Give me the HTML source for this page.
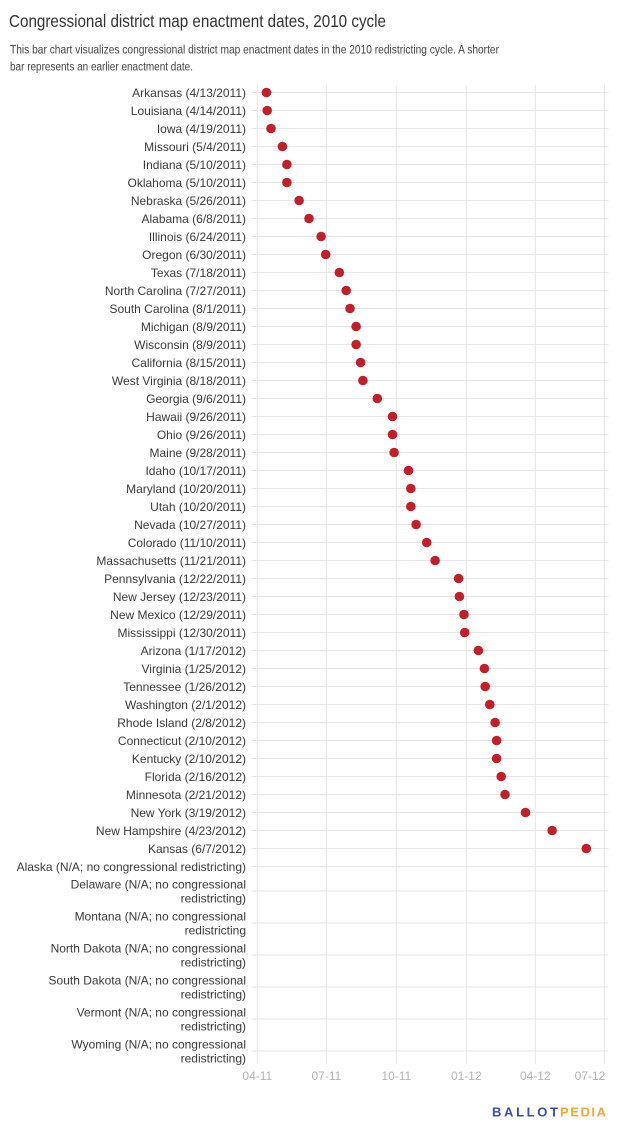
<!DOCTYPE html>
<html><head><meta charset="utf-8"><style>
html,body{margin:0;padding:0;background:#fff;}
svg{display:block;font-family:"Liberation Sans",Arial,sans-serif;}
.lab{font-size:12px;fill:#3a3a3a;text-anchor:end;}
.tick{font-size:12px;fill:#b3b3b3;text-anchor:middle;}
.g{stroke:#e6e6e6;stroke-width:1;}
.d{fill:#c1202b;}
</style></head><body>
<svg width="620" height="1134" viewBox="0 0 620 1134" xmlns="http://www.w3.org/2000/svg">
<text x="9" y="27" font-size="17.5" fill="#333" textLength="377" lengthAdjust="spacingAndGlyphs">Congressional district map enactment dates, 2010 cycle</text>
<text x="10" y="53.5" font-size="12.3" fill="#444" textLength="489" lengthAdjust="spacingAndGlyphs">This bar chart visualizes congressional district map enactment dates in the 2010 redistricting cycle. A shorter</text>
<text x="10" y="70.5" font-size="12.3" fill="#444" textLength="183" lengthAdjust="spacingAndGlyphs">bar represents an earlier enactment date.</text>

<g class="g">
<line x1="257.3" y1="85" x2="257.3" y2="1064"/>
<line x1="326.4" y1="85" x2="326.4" y2="1064"/>
<line x1="396.3" y1="85" x2="396.3" y2="1064"/>
<line x1="466.3" y1="85" x2="466.3" y2="1064"/>
<line x1="535.3" y1="85" x2="535.3" y2="1064"/>
<line x1="604.4" y1="85" x2="604.4" y2="1064"/>
</g>
<g class="g" id="hl"></g>

<g class="tick">
<text x="257.3" y="1080">04-11</text>
<text x="326.4" y="1080">07-11</text>
<text x="396.3" y="1080">10-11</text>
<text x="466.3" y="1080">01-12</text>
<text x="535.3" y="1080">04-12</text>
<text x="590" y="1080">07-12</text>
</g>

<g class="g">
<line x1="251.5" y1="92.5" x2="608.5" y2="92.5"/><line x1="251.5" y1="110.5" x2="608.5" y2="110.5"/><line x1="251.5" y1="128.5" x2="608.5" y2="128.5"/><line x1="251.5" y1="146.5" x2="608.5" y2="146.5"/><line x1="251.5" y1="164.5" x2="608.5" y2="164.5"/><line x1="251.5" y1="182.5" x2="608.5" y2="182.5"/><line x1="251.5" y1="200.5" x2="608.5" y2="200.5"/><line x1="251.5" y1="218.5" x2="608.5" y2="218.5"/><line x1="251.5" y1="236.5" x2="608.5" y2="236.5"/><line x1="251.5" y1="254.5" x2="608.5" y2="254.5"/><line x1="251.5" y1="272.5" x2="608.5" y2="272.5"/><line x1="251.5" y1="290.5" x2="608.5" y2="290.5"/><line x1="251.5" y1="308.5" x2="608.5" y2="308.5"/><line x1="251.5" y1="326.5" x2="608.5" y2="326.5"/><line x1="251.5" y1="344.5" x2="608.5" y2="344.5"/><line x1="251.5" y1="362.5" x2="608.5" y2="362.5"/><line x1="251.5" y1="380.5" x2="608.5" y2="380.5"/><line x1="251.5" y1="398.5" x2="608.5" y2="398.5"/><line x1="251.5" y1="416.5" x2="608.5" y2="416.5"/><line x1="251.5" y1="434.5" x2="608.5" y2="434.5"/><line x1="251.5" y1="452.5" x2="608.5" y2="452.5"/><line x1="251.5" y1="470.5" x2="608.5" y2="470.5"/><line x1="251.5" y1="488.5" x2="608.5" y2="488.5"/><line x1="251.5" y1="506.5" x2="608.5" y2="506.5"/><line x1="251.5" y1="524.5" x2="608.5" y2="524.5"/><line x1="251.5" y1="542.5" x2="608.5" y2="542.5"/><line x1="251.5" y1="560.5" x2="608.5" y2="560.5"/><line x1="251.5" y1="578.5" x2="608.5" y2="578.5"/><line x1="251.5" y1="596.5" x2="608.5" y2="596.5"/><line x1="251.5" y1="614.5" x2="608.5" y2="614.5"/><line x1="251.5" y1="632.5" x2="608.5" y2="632.5"/><line x1="251.5" y1="650.5" x2="608.5" y2="650.5"/><line x1="251.5" y1="668.5" x2="608.5" y2="668.5"/><line x1="251.5" y1="686.5" x2="608.5" y2="686.5"/><line x1="251.5" y1="704.5" x2="608.5" y2="704.5"/><line x1="251.5" y1="722.5" x2="608.5" y2="722.5"/><line x1="251.5" y1="740.5" x2="608.5" y2="740.5"/><line x1="251.5" y1="758.5" x2="608.5" y2="758.5"/><line x1="251.5" y1="776.5" x2="608.5" y2="776.5"/><line x1="251.5" y1="794.5" x2="608.5" y2="794.5"/><line x1="251.5" y1="812.5" x2="608.5" y2="812.5"/><line x1="251.5" y1="830.5" x2="608.5" y2="830.5"/><line x1="251.5" y1="848.5" x2="608.5" y2="848.5"/><line x1="251.5" y1="866.5" x2="608.5" y2="866.5"/><line x1="251.5" y1="891" x2="608.5" y2="891"/><line x1="251.5" y1="923" x2="608.5" y2="923"/><line x1="251.5" y1="955" x2="608.5" y2="955"/><line x1="251.5" y1="987" x2="608.5" y2="987"/><line x1="251.5" y1="1019" x2="608.5" y2="1019"/><line x1="251.5" y1="1051" x2="608.5" y2="1051"/>
</g>

<g class="lab">
<text x="246" y="96.8">Arkansas (4/13/2011)</text>
<text x="246" y="114.8">Louisiana (4/14/2011)</text>
<text x="246" y="132.8">Iowa (4/19/2011)</text>
<text x="246" y="150.8">Missouri (5/4/2011)</text>
<text x="246" y="168.8">Indiana (5/10/2011)</text>
<text x="246" y="186.8">Oklahoma (5/10/2011)</text>
<text x="246" y="204.8">Nebraska (5/26/2011)</text>
<text x="246" y="222.8">Alabama (6/8/2011)</text>
<text x="246" y="240.8">Illinois (6/24/2011)</text>
<text x="246" y="258.8">Oregon (6/30/2011)</text>
<text x="246" y="276.8">Texas (7/18/2011)</text>
<text x="246" y="294.8">North Carolina (7/27/2011)</text>
<text x="246" y="312.8">South Carolina (8/1/2011)</text>
<text x="246" y="330.8">Michigan (8/9/2011)</text>
<text x="246" y="348.8">Wisconsin (8/9/2011)</text>
<text x="246" y="366.8">California (8/15/2011)</text>
<text x="246" y="384.8">West Virginia (8/18/2011)</text>
<text x="246" y="402.8">Georgia (9/6/2011)</text>
<text x="246" y="420.8">Hawaii (9/26/2011)</text>
<text x="246" y="438.8">Ohio (9/26/2011)</text>
<text x="246" y="456.8">Maine (9/28/2011)</text>
<text x="246" y="474.8">Idaho (10/17/2011)</text>
<text x="246" y="492.8">Maryland (10/20/2011)</text>
<text x="246" y="510.8">Utah (10/20/2011)</text>
<text x="246" y="528.8">Nevada (10/27/2011)</text>
<text x="246" y="546.8">Colorado (11/10/2011)</text>
<text x="246" y="564.8">Massachusetts (11/21/2011)</text>
<text x="246" y="582.8">Pennsylvania (12/22/2011)</text>
<text x="246" y="600.8">New Jersey (12/23/2011)</text>
<text x="246" y="618.8">New Mexico (12/29/2011)</text>
<text x="246" y="636.8">Mississippi (12/30/2011)</text>
<text x="246" y="654.8">Arizona (1/17/2012)</text>
<text x="246" y="672.8">Virginia (1/25/2012)</text>
<text x="246" y="690.8">Tennessee (1/26/2012)</text>
<text x="246" y="708.8">Washington (2/1/2012)</text>
<text x="246" y="726.8">Rhode Island (2/8/2012)</text>
<text x="246" y="744.8">Connecticut (2/10/2012)</text>
<text x="246" y="762.8">Kentucky (2/10/2012)</text>
<text x="246" y="780.8">Florida (2/16/2012)</text>
<text x="246" y="798.8">Minnesota (2/21/2012)</text>
<text x="246" y="816.8">New York (3/19/2012)</text>
<text x="246" y="834.8">New Hampshire (4/23/2012)</text>
<text x="246" y="852.8">Kansas (6/7/2012)</text>
<text x="246" y="870.8">Alaska (N/A; no congressional redistricting)</text>
<text x="246" y="888.3">Delaware (N/A; no congressional</text>
<text x="246" y="902.3">redistricting)</text>
<text x="246" y="920.3">Montana (N/A; no congressional</text>
<text x="246" y="934.3">redistricting</text>
<text x="246" y="952.3">North Dakota (N/A; no congressional</text>
<text x="246" y="966.3">redistricting)</text>
<text x="246" y="984.3">South Dakota (N/A; no congressional</text>
<text x="246" y="998.3">redistricting)</text>
<text x="246" y="1016.3">Vermont (N/A; no congressional</text>
<text x="246" y="1030.3">redistricting)</text>
<text x="246" y="1048.3">Wyoming (N/A; no congressional</text>
<text x="246" y="1062.3">redistricting)</text>
</g>

<g class="d">
<circle cx="266.4" cy="92.5" r="4.8"/>
<circle cx="267.2" cy="110.5" r="4.8"/>
<circle cx="271.0" cy="128.5" r="4.8"/>
<circle cx="282.4" cy="146.5" r="4.8"/>
<circle cx="286.9" cy="164.5" r="4.8"/>
<circle cx="286.9" cy="182.5" r="4.8"/>
<circle cx="299.1" cy="200.5" r="4.8"/>
<circle cx="309.0" cy="218.5" r="4.8"/>
<circle cx="321.1" cy="236.5" r="4.8"/>
<circle cx="325.7" cy="254.5" r="4.8"/>
<circle cx="339.3" cy="272.5" r="4.8"/>
<circle cx="346.2" cy="290.5" r="4.8"/>
<circle cx="350.0" cy="308.5" r="4.8"/>
<circle cx="356.1" cy="326.5" r="4.8"/>
<circle cx="356.1" cy="344.5" r="4.8"/>
<circle cx="360.6" cy="362.5" r="4.8"/>
<circle cx="362.9" cy="380.5" r="4.8"/>
<circle cx="377.3" cy="398.5" r="4.8"/>
<circle cx="392.5" cy="416.5" r="4.8"/>
<circle cx="392.5" cy="434.5" r="4.8"/>
<circle cx="394.1" cy="452.5" r="4.8"/>
<circle cx="408.5" cy="470.5" r="4.8"/>
<circle cx="410.8" cy="488.5" r="4.8"/>
<circle cx="410.8" cy="506.5" r="4.8"/>
<circle cx="416.1" cy="524.5" r="4.8"/>
<circle cx="426.7" cy="542.5" r="4.8"/>
<circle cx="435.1" cy="560.5" r="4.8"/>
<circle cx="458.6" cy="578.5" r="4.8"/>
<circle cx="459.4" cy="596.5" r="4.8"/>
<circle cx="464.0" cy="614.5" r="4.8"/>
<circle cx="464.7" cy="632.5" r="4.8"/>
<circle cx="478.4" cy="650.5" r="4.8"/>
<circle cx="484.4" cy="668.5" r="4.8"/>
<circle cx="485.2" cy="686.5" r="4.8"/>
<circle cx="489.8" cy="704.5" r="4.8"/>
<circle cx="495.1" cy="722.5" r="4.8"/>
<circle cx="496.6" cy="740.5" r="4.8"/>
<circle cx="496.6" cy="758.5" r="4.8"/>
<circle cx="501.2" cy="776.5" r="4.8"/>
<circle cx="505.0" cy="794.5" r="4.8"/>
<circle cx="525.5" cy="812.5" r="4.8"/>
<circle cx="552.1" cy="830.5" r="4.8"/>
<circle cx="586.3" cy="848.5" r="4.8"/>
</g>

<text x="492" y="1116.5" font-size="13" font-weight="bold" fill="#3a4ea6" textLength="66" lengthAdjust="spacing">BALLOT</text>
<text x="560" y="1116.5" font-size="13" font-weight="bold" fill="#f2a83a" textLength="46" lengthAdjust="spacing">PEDIA</text>
</svg>
</body></html>
